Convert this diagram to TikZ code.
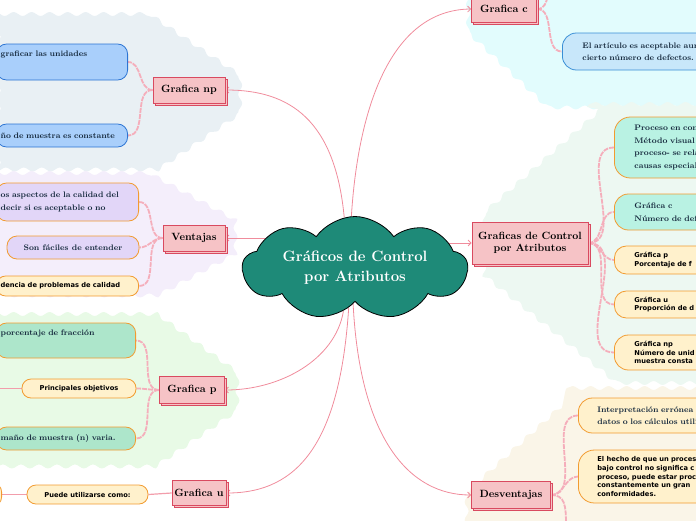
\documentclass[tikz,border=0pt]{standalone}
\usepackage{fontspec}
\newfontfamily\notesans{DejaVu Sans}
\usetikzlibrary{arrows.meta, positioning, calc, shapes.symbols, shadows, decorations.pathmorphing}

\definecolor{RootTeal}{HTML}{1E8A78}
\definecolor{LinkPink}{HTML}{F08C9C}
\definecolor{BranchPink}{HTML}{F5AEBB}
\definecolor{TopicFill}{HTML}{F6C3C6}
\definecolor{TopicLine}{HTML}{D94A60}
\definecolor{NoteOrange}{HTML}{F29B30}
\definecolor{BlueFill}{HTML}{A9CFFB}
\definecolor{BlueLine}{HTML}{2C74D3}
\definecolor{LilacFill}{HTML}{E2D6F8}
\definecolor{CreamFill}{HTML}{FFF1CC}
\definecolor{GreenFill}{HTML}{ADE6CB}
\definecolor{MintFill}{HTML}{B9F2E3}
\definecolor{SkyFill}{HTML}{C8E7FA}
\definecolor{SkyLine}{HTML}{3A8FD6}
\definecolor{InkNavy}{HTML}{14283C}
\definecolor{ZoneGrey}{HTML}{E9F0F4}
\definecolor{ZoneLilac}{HTML}{F4EEFB}
\definecolor{ZoneGreen}{HTML}{E8FAE6}
\definecolor{ZoneCyan}{HTML}{E2FCFD}
\definecolor{ZoneMint}{HTML}{EDF8F2}
\definecolor{ZoneSand}{HTML}{FAF5E8}

\pgfdeclarelayer{zones}
\pgfdeclarelayer{links}
\pgfsetlayers{zones,links,main}

\tikzset{
  topic/.style={draw=TopicLine, fill=TopicFill, line width=0.8pt, inner sep=0pt,
    font=\fontsize{10.5}{12}\selectfont\bfseries, align=center,
    copy shadow={shadow xshift=2pt, shadow yshift=-2pt, fill=TopicFill, draw=TopicLine, line width=0.8pt}},
  note/.style={rounded corners=10pt, line width=0.8pt, draw=NoteOrange, inner ysep=2pt,
    font=\fontsize{8}{12.5}\selectfont\bfseries, text=InkNavy, align=left},
  sansnote/.style={note, rounded corners=9pt, fill=CreamFill, text=black,
    font=\notesans\bfseries\fontsize{6.7}{8.6}\selectfont},
  leftcut/.style={anchor=east, inner xsep=4pt, text width=#1},
  rightcut/.style={anchor=west, inner xsep=20pt, text width=150pt},
  link/.style={draw=LinkPink, line width=0.8pt, -{Straight Barb[length=3pt,width=6pt]}},
  branch/.style={draw=BranchPink, line width=1.8pt, dash pattern=on 5pt off 1pt},
  plainlink/.style={draw=LinkPink!85, line width=1.2pt},
  zone/.style={decorate, decoration={snake, amplitude=2pt, segment length=18pt}},
}

\begin{document}
\begin{tikzpicture}[x=1pt, y=-1pt]
  \useasboundingbox (0,0) rectangle (696,520);

  % Background zones
  \begin{pgfonlayer}{zones}
    \fill[ZoneGrey, zone] (-10,14) -- (140,14) -- (232,76) -- (232,112) -- (150,168) -- (-10,168) -- cycle;
    \fill[ZoneLilac, zone] (-10,173) -- (140,173) -- (230,222) -- (230,262) -- (150,305) -- (-10,305) -- cycle;
    \fill[ZoneGreen, zone] (-10,314) -- (150,314) -- (230,372) -- (230,410) -- (145,468) -- (-10,468) -- cycle;
    \fill[ZoneCyan, zone] (468,-10) -- (468,25) -- (548,100) -- (706,100) -- (706,-10) -- cycle;
    \fill[ZoneMint, zone] (590,104) -- (706,104) -- (706,382) -- (600,382) -- (468,275) -- (468,212) -- cycle;
    \fill[ZoneSand, zone] (567,388) -- (706,388) -- (706,530) -- (468,530) -- (468,478) -- cycle;
  \end{pgfonlayer}

  % Central topic
  \node[cloud, cloud puffs=9, cloud puff arc=110, cloud ignores aspect, draw=black, fill=RootTeal,
    line width=0.8pt, minimum width=225pt, minimum height=103pt, inner sep=0pt,
    text=white, align=center, font=\fontsize{15}{20}\selectfont\bfseries] (root) at (355,268)
    {Gráficos de Control\\por Atributos};

  % Main topics
  \node[topic, minimum width=65pt, minimum height=26pt] (gc) at (504,9) {Grafica c};
  \node[topic, minimum width=72pt, minimum height=26pt] (np) at (189,90) {Grafica np};
  \node[topic, minimum width=62pt, minimum height=26pt] (ven) at (194,238) {Ventajas};
  \node[topic, minimum width=65pt, minimum height=27pt] (gp) at (192,390) {Grafica p};
  \node[topic, minimum width=54pt, minimum height=25pt] (gu) at (199,493) {Grafica u};
  \node[topic, minimum width=116pt, minimum height=42pt] (gcon) at (530,243) {Graficas de Control\\por Atributos};
  \node[topic, minimum width=79pt, minimum height=27pt] (des) at (511,495) {Desventajas};

  % Grafica np
  \node[note, fill=BlueFill, draw=BlueLine, leftcut=123pt, minimum height=36pt] (np1) at (128,62)
    {graficar las unidades\\\strut};
  \node[note, fill=BlueFill, draw=BlueLine, leftcut=123pt, minimum height=23pt] (np2) at (128,135.5)
    {ño de muestra es constante};

  % Ventajas
  \node[note, fill=LilacFill, leftcut=134pt, minimum height=38pt] (v1) at (139,202)
    {os aspectos de la calidad del\\decir si es aceptable o no};
  \node[note, fill=LilacFill, align=center, minimum width=132pt, minimum height=23pt] (v2) at (73,247.5)
    {Son fáciles de entender};
  \node[sansnote, leftcut=134pt, minimum height=20pt] (v3) at (139,286)
    {dencia de problemas de calidad};

  % Grafica p
  \node[note, fill=GreenFill, leftcut=131pt, minimum height=35pt] (p1) at (136,340.5)
    {porcentaje de fracción\\\strut};
  \node[sansnote, align=center, minimum width=114pt, minimum height=19pt] (p2) at (79,388.5)
    {Principales objetivos};
  \node[note, fill=GreenFill, leftcut=131pt, minimum height=23pt] (p3) at (136,438.5)
    {maño de muestra (n) varia.};
  \coordinate (p2end) at (-3,388.5);

  % Grafica u
  \node[sansnote, align=center, minimum width=121pt, minimum height=19pt] (u1) at (87.5,494.5)
    {Puede utilizarse como:};
  \node[sansnote, anchor=east, minimum width=40pt, minimum height=23pt] (u0) at (2,494.5) {};

  % Grafica c
  \node[note, fill=SkyFill, draw=SkyLine, rightcut, rounded corners=14pt, minimum height=37pt] (c1) at (562,51.5)
    {El artículo es aceptable aun\\cierto número de defectos.};
  \coordinate (gcup) at (548,-4);

  % Graficas de Control por Atributos
  \node[note, fill=MintFill, rightcut, rounded corners=16pt, minimum height=61pt] (g1) at (614,147.5)
    {Proceso en con\\Método visual\\proceso- se rela\\causas especial};
  \node[note, fill=MintFill, rightcut, rounded corners=14pt, minimum height=36pt] (g2) at (614,212)
    {Gráfica c\\Número de def};
  \node[sansnote, rightcut, rounded corners=12pt, minimum height=28pt] (g3) at (614,260)
    {Gráfica p\\Porcentaje de f};
  \node[sansnote, rightcut, rounded corners=12pt, minimum height=27pt] (g4) at (614,304.5)
    {Gráfica u\\Proporción de d};
  \node[sansnote, rightcut, rounded corners=14pt, minimum height=35pt] (g5) at (614,352.5)
    {Gráfica np\\Número de unid\\muestra consta};

  % Desventajas
  \node[note, fill=CreamFill, rightcut, inner xsep=19pt, rounded corners=14pt, minimum height=35pt] (d1) at (578,415.5)
    {Interpretación errónea\\datos o los cálculos utili};
  \node[sansnote, rightcut, inner xsep=19pt, rounded corners=16pt, minimum height=53pt] (d2) at (578,476.5)
    {El hecho de que un proces\\bajo control no significa c\\proceso, puede estar proc\\constantemente un gran\\conformidades.};
  \coordinate (dsdown) at (566,526);

  % Connectors
  \begin{pgfonlayer}{links}
    \draw[link] (root.94) .. controls (358,110) and (390,10) .. (gc.west);
    \draw[link] (root.102) .. controls (335,120) and (290,90) .. (np.east);
    \draw[link] (root.center |- ven.east) -- (ven.east);
    \draw[link] (root.center |- gcon.west) -- (gcon.west);
    \draw[link] (root.255) .. controls (335,360) and (280,390) .. (gp.east);
    \draw[link] (root.261) .. controls (340,440) and (300,493) .. (gu.east);
    \draw[link] (root.267) .. controls (360,440) and (410,495) .. (des.west);

    \draw[branch] (np.west) to[out=180, in=0] (np1.east);
    \draw[branch] (np.west) to[out=180, in=0] (np2.east);
    \draw[branch] (ven.west) to[out=180, in=0] (v1.east);
    \draw[branch] (ven.west) to[out=180, in=0] (v2.east);
    \draw[branch] (ven.west) to[out=180, in=0] (v3.east);
    \draw[branch] (gp.west) to[out=180, in=0] (p1.east);
    \draw[branch] (gp.west) to[out=180, in=0] (p2.east);
    \draw[branch] (gp.west) to[out=180, in=0] (p3.east);
    \draw[plainlink] (p2.west) -- (p2end);
    \draw[plainlink] (gu.west) -- (u1.east);
    \draw[plainlink] (u1.west) -- (u0.east);
    \draw[branch] (gc.east) .. controls (545,9) and (546,2) .. (gcup);
    \draw[branch] (gc.east) to[out=0, in=180] (c1.west);
    \foreach \g in {g1,g2,g3,g4,g5}
      \draw[branch] (gcon.east) to[out=0, in=180] (\g.west);
    \draw[branch] (des.east) to[out=0, in=180] (d1.west);
    \draw[branch] (des.east) to[out=0, in=180] (d2.west);
    \draw[branch] (des.east) .. controls (565,495) and (566,505) .. (dsdown);
  \end{pgfonlayer}
\end{tikzpicture}
\end{document}
